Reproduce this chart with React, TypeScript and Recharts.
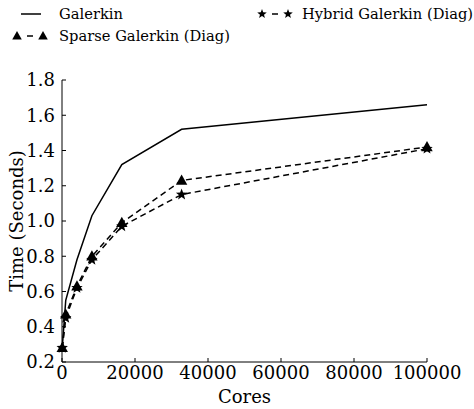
import { LineChart, Line, XAxis, YAxis, Label } from "recharts";

const CORES = [64, 1024, 4096, 8192, 16384, 32768, 100000];
const GALERKIN = [0.28, 0.55, 0.78, 1.03, 1.32, 1.52, 1.66];
const SPARSE = [0.28, 0.47, 0.63, 0.8, 0.99, 1.23, 1.42];
const HYBRID = [0.28, 0.45, 0.62, 0.78, 0.97, 1.15, 1.41];
const X_TICKS = [0, 20000, 40000, 60000, 80000, 100000];
const Y_TICKS = [0.2, 0.4, 0.6, 0.8, 1.0, 1.2, 1.4, 1.6, 1.8];

const FONT = "DejaVu Serif";

const data = CORES.map((c, i) => ({
  cores: c,
  galerkin: GALERKIN[i],
  sparse: SPARSE[i],
  hybrid: HYBRID[i],
}));

function trianglePath(cx: number, cy: number, r: number) {
  return `M${cx},${cy - r} L${cx + r * 0.95},${cy + r * 0.7} L${cx - r * 0.95},${cy + r * 0.7} Z`;
}

function starPath(cx: number, cy: number, R: number) {
  const r = R * 0.42;
  let d = "";
  for (let i = 0; i < 10; i++) {
    const rad = i % 2 === 0 ? R : r;
    const a = -Math.PI / 2 + (i * Math.PI) / 5;
    d += (i === 0 ? "M" : "L") + (cx + rad * Math.cos(a)).toFixed(2) + "," + (cy + rad * Math.sin(a)).toFixed(2);
  }
  return d + "Z";
}

const TriangleDot = (props: any) => {
  const { cx, cy } = props;
  if (cx == null || cy == null) return <g />;
  return <path d={trianglePath(cx, cy, 6)} fill="#000" />;
};

const StarDot = (props: any) => {
  const { cx, cy } = props;
  if (cx == null || cy == null) return <g />;
  return <path d={starPath(cx, cy, 6)} fill="#000" />;
};

const XTick = ({ x, y, payload }: any) => (
  <g>
    <line x1={x} y1={y} x2={x} y2={y - 4} stroke="#000" />
    <text x={x} y={y + 4} dy="0.71em" textAnchor="middle" fontFamily={FONT} fontSize={18} fill="#000">
      {payload.value}
    </text>
  </g>
);

const YTick = ({ x, y, payload }: any) => (
  <g>
    <line x1={x} y1={y} x2={x + 4} y2={y} stroke="#000" />
    <text x={x - 7} y={y} dy="0.355em" textAnchor="end" fontFamily={FONT} fontSize={18} fill="#000">
      {Number(payload.value).toFixed(1)}
    </text>
  </g>
);

const legendText = { fontFamily: FONT, fontSize: 14.7, fill: "#000" };

function LegendBox() {
  return (
    <svg width={474} height={50} style={{ position: "absolute", left: 0, top: 0 }}>
      <line x1={21} y1={14} x2={41} y2={14} stroke="#000" strokeWidth={1.5} />
      <text x={59} y={14} dy="0.355em" style={legendText}>Galerkin</text>
      <path d={trianglePath(17, 36, 5)} fill="#000" />
      <line x1={27} y1={36} x2={33} y2={36} stroke="#000" strokeWidth={1.5} />
      <path d={trianglePath(43, 36, 5)} fill="#000" />
      <text x={59} y={36} dy="0.355em" style={legendText}>Sparse Galerkin (Diag)</text>
      <path d={starPath(262, 14, 5)} fill="#000" />
      <line x1={272} y1={14} x2={278} y2={14} stroke="#000" strokeWidth={1.5} />
      <path d={starPath(288, 14, 5)} fill="#000" />
      <text x={302} y={14} dy="0.355em" style={legendText}>Hybrid Galerkin (Diag)</text>
    </svg>
  );
}

export default function App() {
  return (
    <div style={{ position: "absolute", left: 0, top: 0, width: 474, height: 409, background: "#fff" }}>
      <LineChart width={474} height={409} data={data} margin={{ top: 80, right: 47, bottom: 0, left: 0 }}>
        <XAxis
          dataKey="cores"
          type="number"
          domain={[0, 100000]}
          ticks={X_TICKS}
          interval={0}
          height={47}
          tickSize={0}
          tickMargin={0}
          tickLine={false}
          axisLine={{ stroke: "#000" }}
          tick={<XTick />}
        >
          <Label
            content={({ viewBox }: any) => (
              <text x={viewBox.x + viewBox.width / 2} y={viewBox.y + 41} textAnchor="middle" fontFamily={FONT} fontSize={18} fill="#000">
                Cores
              </text>
            )}
          />
        </XAxis>
        <YAxis
          type="number"
          domain={[0.2, 1.8]}
          ticks={Y_TICKS}
          interval={0}
          width={62}
          tickSize={0}
          tickMargin={0}
          tickLine={false}
          axisLine={{ stroke: "#000" }}
          tick={<YTick />}
        >
          <Label
            content={({ viewBox }: any) => {
              const cx = 17;
              const cy = viewBox.y + viewBox.height / 2;
              return (
                <text x={cx} y={cy} dy="0.355em" transform={`rotate(-90 ${cx} ${cy})`} textAnchor="middle" fontFamily={FONT} fontSize={18} fill="#000">
                  Time (Seconds)
                </text>
              );
            }}
          />
        </YAxis>
        <Line type="linear" dataKey="galerkin" stroke="#000" strokeWidth={1.5} dot={false} isAnimationActive={false} />
        <Line type="linear" dataKey="hybrid" stroke="#000" strokeWidth={1.5} strokeDasharray="6 4" dot={<StarDot />} activeDot={false} isAnimationActive={false} />
        <Line type="linear" dataKey="sparse" stroke="#000" strokeWidth={1.5} strokeDasharray="6 4" dot={<TriangleDot />} activeDot={false} isAnimationActive={false} />
      </LineChart>
      <LegendBox />
    </div>
  );
}
